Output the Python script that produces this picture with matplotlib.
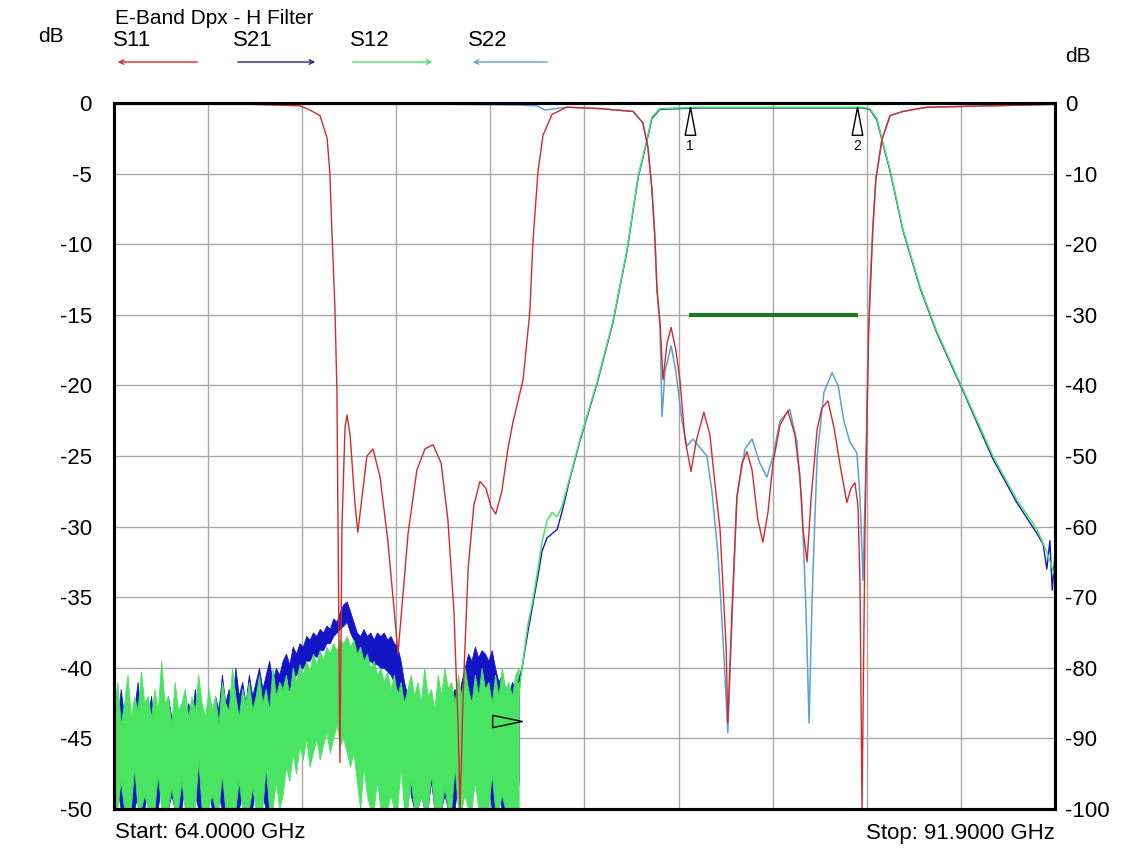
import numpy as np
import matplotlib
matplotlib.use('Agg')
import matplotlib.pyplot as plt

plt.rcParams['font.family'] = ['Liberation Sans', 'DejaVu Sans']
plt.rcParams['axes.unicode_minus'] = False

# sweep settings
f_start, f_stop = 64.0, 91.9

# S11 (left scale, dB)
s11_f = [64.00, 68.03, 69.51, 69.81, 70.11, 70.32, 70.40, 70.46, 70.55, 70.61, 70.64, 70.70,
         70.76, 70.85, 70.91, 71.00, 71.15, 71.23, 71.35, 71.50, 71.68, 71.89, 72.12, 72.33,
         72.42, 72.51, 72.72, 72.98, 73.22, 73.46, 73.70, 73.90, 74.08, 74.20, 74.26, 74.35,
         74.50, 74.67, 74.85, 75.03, 75.18, 75.32, 75.50, 75.68, 75.83, 76.13, 76.33, 76.42,
         76.57, 76.72, 76.99, 77.43, 78.41, 79.39, 79.68, 79.83, 79.95, 80.04, 80.10, 80.19,
         80.28, 80.40, 80.52, 80.66, 80.78, 80.93, 81.11, 81.26, 81.49, 81.67, 81.82, 81.97,
         82.15, 82.20, 82.32, 82.47, 82.62, 82.77, 82.92, 83.09, 83.24, 83.39, 83.54, 83.75,
         83.98, 84.19, 84.34, 84.43, 84.55, 84.67, 84.85, 84.99, 85.17, 85.35, 85.52, 85.73,
         85.85, 85.97, 86.06, 86.12, 86.18, 86.27, 86.33, 86.38, 86.44, 86.50, 86.59, 86.77,
         87.01, 87.39, 88.10, 91.90]
s11_db = [-0.1, -0.1, -0.2, -0.5, -0.9, -2.5, -4.9, -9.0, -14.4, -20.3, -29.0, -46.7,
          -30.0, -23.0, -22.1, -23.5, -28.5, -30.4, -28.0, -25.0, -24.5, -26.5, -31.0, -36.5,
          -39.0, -36.5, -30.5, -26.0, -24.5, -24.2, -25.5, -29.5, -36.0, -44.0, -50.0, -42.0,
          -33.0, -28.5, -26.8, -27.3, -28.6, -29.1, -27.5, -24.5, -22.6, -19.6, -14.8, -9.9,
          -4.9, -2.3, -0.8, -0.3, -0.4, -0.6, -1.4, -3.1, -6.1, -9.6, -13.2, -15.5,
          -19.6, -17.0, -15.9, -17.5, -19.6, -23.8, -26.1, -24.0, -21.9, -23.5, -27.0, -30.2,
          -38.5, -43.9, -36.1, -27.9, -25.5, -24.7, -26.0, -29.5, -31.1, -29.0, -25.5, -22.8,
          -21.8, -23.5, -26.5, -30.2, -32.5, -28.0, -23.1, -21.6, -21.1, -23.0, -25.5, -28.3,
          -27.3, -26.9, -28.5, -34.0, -50.0, -30.0, -22.0, -16.0, -12.5, -8.9, -5.4, -2.6,
          -0.9, -0.6, -0.3, -0.1]

# S22 (left scale, dB)
s22_f = [64.00, 69.51, 73.96, 76.04, 76.54, 76.78, 77.08, 77.43, 78.41, 79.39, 79.68, 79.83,
         79.95, 80.04, 80.10, 80.19, 80.25, 80.34, 80.52, 80.66, 80.84, 80.99, 81.17, 81.37,
         81.58, 81.73, 81.91, 82.06, 82.20, 82.32, 82.47, 82.71, 82.92, 83.15, 83.36, 83.54,
         83.75, 84.04, 84.25, 84.40, 84.52, 84.61, 84.70, 84.85, 85.05, 85.29, 85.47, 85.64,
         85.82, 86.03, 86.12, 86.21, 86.30, 86.36, 86.41, 86.50, 86.59, 86.77, 87.01, 87.39,
         88.10, 91.90]
s22_db = [-0.05, -0.1, -0.1, -0.15, -0.2, -0.5, -0.4, -0.3, -0.4, -0.6, -1.4, -3.1,
          -6.1, -9.6, -13.2, -16.0, -22.2, -19.0, -17.2, -19.0, -22.5, -24.3, -23.8, -24.4,
          -25.0, -27.5, -32.0, -38.0, -44.6, -37.0, -27.9, -24.5, -23.8, -25.5, -26.5, -25.0,
          -22.5, -21.7, -24.0, -28.5, -36.0, -43.9, -35.0, -25.0, -20.5, -19.1, -20.0, -22.5,
          -24.0, -24.8, -27.9, -33.8, -25.0, -17.0, -13.2, -8.9, -5.4, -2.6, -0.9, -0.6,
          -0.3, -0.1]

# S21 / S12 noise floor below 76 GHz (right scale, dB), upper and lower edge of the trace
noise_f = np.linspace(64.0, 76.0, 121)
s12_hi = [-86, -82, -88, -85, -81, -87, -84, -86, -80.5, -85,
          -84, -87, -83, -86, -79, -85, -84, -88, -82, -86,
          -85, -83, -87, -84, -86, -81, -85, -87, -83, -86,
          -84, -88, -82, -85, -86, -80, -84, -87, -83, -85,
          -82, -86, -84, -81, -85, -83, -86, -80, -84, -82,
          -83, -81, -84, -80, -82, -79.5, -81, -79, -80.5, -78,
          -79.5, -77.5, -79, -77, -78, -76.5, -77.5, -76, -76.5, -75.5,
          -77, -76, -78, -77, -79, -78, -80, -79, -81, -80,
          -82, -80.5, -83, -81, -84, -82, -85, -83, -81, -84,
          -82, -85, -80, -84, -83, -86, -81, -84, -80, -83,
          -82, -85, -81, -84, -80, -83, -85, -81, -84, -80,
          -83, -82, -85, -81, -84, -80, -83, -82, -84, -81,
          -80]
s12_lo = [-100, -100, -96, -100, -100, -100, -94, -100, -100, -98,
          -100, -100, -100, -95, -100, -100, -100, -97, -100, -100,
          -96, -100, -100, -100, -100, -93, -100, -100, -100, -98,
          -100, -100, -95, -100, -100, -100, -100, -96, -100, -100,
          -100, -97, -100, -100, -100, -94, -100, -100, -96, -100,
          -98, -94, -96, -92, -95, -91, -93, -90, -94, -92,
          -90, -93, -91, -89, -92, -90, -88, -91, -90, -92,
          -94, -92, -96, -100, -94, -98, -100, -100, -96, -100,
          -100, -100, -98, -100, -100, -94, -100, -100, -96, -100,
          -100, -98, -100, -100, -95, -100, -100, -100, -97, -100,
          -100, -94, -100, -100, -98, -100, -100, -96, -100, -100,
          -100, -100, -95, -100, -100, -98, -100, -100, -100, -100,
          -100]
s21_hi = [-84, -88, -83, -87, -85, -89, -86, -82, -88, -86,
          -87, -84, -89, -86, -85, -88, -84, -87, -86, -90,
          -86, -88, -85, -87, -83, -88, -86, -89, -85, -87,
          -84, -86, -81, -85, -83, -86, -80, -84, -82, -85,
          -81, -84, -82, -80, -83, -81, -79, -82, -80, -81,
          -79, -78, -79.5, -77, -78, -76.5, -77, -75.5, -76, -75,
          -75.5, -74.5, -75, -74, -74.5, -73, -73.5, -72, -71, -70.6,
          -72, -73.5, -75, -75.5, -74.5, -75.5, -75, -76, -75, -75.5,
          -75, -76, -75.5, -76.5, -77, -79, -82, -84, -85, -86,
          -85, -87, -84, -86, -85, -87, -84, -86, -83, -85,
          -84, -83, -85, -82, -80, -78, -79, -77, -78.5, -77.5,
          -78, -79, -77.5, -80, -82, -81, -83, -84, -82, -83,
          -81]
s21_lo = [-100, -97, -100, -100, -96, -100, -100, -98, -100, -100,
          -97, -100, -100, -100, -96, -100, -100, -98, -100, -100,
          -100, -96, -100, -100, -98, -100, -100, -100, -96, -100,
          -100, -98, -100, -100, -100, -96, -100, -100, -98, -100,
          -100, -100, -96, -100, -98, -100, -100, -94, -96, -90,
          -86, -84, -83, -81.5, -81, -80, -80, -79, -79, -78,
          -78.5, -77.5, -77.5, -76.5, -76.5, -75.5, -75, -74.5, -74, -73.5,
          -75, -76, -78, -78.5, -79, -79.5, -79, -79.5, -79.5, -80,
          -80, -80.5, -81, -82, -83, -86, -90, -94, -98, -100,
          -100, -98, -100, -100, -96, -100, -100, -100, -98, -100,
          -100, -100, -96, -94, -90, -88, -89, -88, -90, -92,
          -100, -96, -100, -100, -98, -100, -100, -96, -100, -100,
          -96]

# S21 / S12 above 76 GHz (right scale, dB)
s12_f = [76.00, 76.10, 76.27, 76.42, 76.57, 76.69, 76.84, 76.99, 77.14, 77.28, 77.52, 77.82,
         78.32, 78.79, 79.21, 79.54, 79.80, 79.95, 80.19, 81.37, 84.34, 86.18, 86.41, 86.62,
         86.80, 87.01, 87.39, 87.90, 88.40, 89.14, 90.06, 90.77, 91.37, 91.66, 91.90]
s12_db = [-84, -80, -74, -70.4, -66, -62.2, -59.2, -58, -58.6, -57.2, -53, -47.6,
          -39.6, -31, -20.8, -10.4, -5.2, -2, -0.8, -0.6, -0.6, -0.6, -0.8, -2.2,
          -5.6, -9.4, -17.8, -26, -32.4, -40.2, -50, -56.2, -60.4, -63.6, -67]
s21_f = [76.00, 76.10, 76.27, 76.42, 76.57, 76.69, 76.84, 76.99, 77.14, 77.28, 77.52, 77.82,
         78.32, 78.79, 79.21, 79.54, 79.80, 79.95, 80.19, 81.37, 84.34, 86.18, 86.41, 86.62,
         86.80, 87.01, 87.39, 87.90, 88.40, 89.14, 90.06, 90.77, 91.37, 91.55, 91.66, 91.75,
         91.82, 91.90]
s21_db = [-82, -80, -75, -71, -67, -63.5, -61.6, -61, -60.4, -58, -53.2, -47.8,
          -39.8, -31.2, -21, -10.6, -5.4, -2.2, -0.9, -0.7, -0.7, -0.7, -0.9, -2.4,
          -5.8, -9.6, -18, -26.2, -32.6, -40.4, -50.4, -56.6, -61, -62.5, -66, -62,
          -69, -64]

# limit line (left scale)
limit_f = [81.05, 86.06]
limit_db = [-15.0, -15.0]

# markers (right scale)
mk_f = [81.08, 86.03]
mk_db = [-0.6, -0.6]
mk_txt = ['1', '2']
ref_f, ref_db = 76.10, -87.6

red = '#d42a2a'
dblue = '#1515c8'
green = '#48e462'
lblue = '#5d9fd6'

fig = plt.figure(figsize=(11.33, 8.66), dpi=100)
ax2 = fig.add_axes([0.1006, 0.0658, 0.8305, 0.8153])
ax = ax2.twinx()
ax.set_zorder(ax2.get_zorder() + 1)
ax.patch.set_visible(False)

ax2.set_xlim(f_start, f_stop)
ax2.set_ylim(-100, 0)
ax.set_ylim(-50, 0)
ax2.set_xticks(np.linspace(f_start, f_stop, 11))
ax2.set_xticklabels([])
ax2.set_yticks(np.arange(-100, 1, 10))
ax.set_yticks(np.arange(-50, 1, 5))
ax2.grid(True, color='#a8a8a8', lw=1.0)
ax2.set_axisbelow(True)

# left labels belong to the S11/S22 scale, right labels to the S21/S12 scale
ax.yaxis.tick_left()
ax2.yaxis.tick_right()
ax.tick_params(axis='y', length=0, pad=16, labelsize=16)
ax2.tick_params(axis='y', length=0, pad=7, labelsize=16)
ax2.tick_params(axis='x', length=0)

# transmission traces
ax2.fill_between(noise_f, s21_lo, s21_hi, color=dblue, lw=0.6)
ax2.fill_between(noise_f, s12_lo, s12_hi, color=green, lw=0.6)
ax2.plot(s21_f, s21_db, color=dblue, lw=1.0)
ax2.plot(s12_f, s12_db, color=green, lw=1.1)

# reflection traces
ax.plot(s22_f, s22_db, color=lblue, lw=1.1)
ax.plot(s11_f, s11_db, color=red, lw=1.0)
ax.plot(limit_f, limit_db, color='#1e7a1e', lw=3, solid_capstyle='butt')

# markers
up_tri = [(0, 0), (-0.42, -2.2), (0.42, -2.2), (0, 0)]
for f, v, t in zip(mk_f, mk_db, mk_txt):
    ax2.plot(f, v, marker=up_tri, ms=40, mfc='white', mec='black', mew=1.0, ls='none')
    ax2.annotate(t, (f, v), xytext=(0, -28), textcoords='offset points',
                 ha='center', va='center', fontsize=10)
right_tri = [(0, 0), (-2.2, 0.45), (-2.2, -0.45), (0, 0)]
ax2.plot(ref_f, ref_db, marker=right_tri, ms=43, mfc='none', mec='black', mew=1.0, ls='none')

for a in (ax, ax2):
    for s in a.spines.values():
        s.set_linewidth(2.2)
        s.set_color('black')

# header texts
fig.text(115 / 1133, 1 - 18 / 866, 'E-Band Dpx - H Filter', fontsize=15, va='center', ha='left')
fig.text(38 / 1133, 1 - 36 / 866, 'dB', fontsize=15, va='center', ha='left')
fig.text(1065 / 1133, 1 - 57 / 866, 'dB', fontsize=15, va='center', ha='left')

leg_names = ['S11', 'S21', 'S12', 'S22']
leg_cols = [red, '#202090', green, lblue]
leg_x = [113, 233, 350, 468]
leg_arrow = [(200, 115), (235, 318), (350, 435), (550, 470)]
for n, c, x0, (xa, xb) in zip(leg_names, leg_cols, leg_x, leg_arrow):
    fig.text(x0 / 1133, 1 - 40 / 866, n, fontsize=16, va='center', ha='left')
    fig.add_artist(matplotlib.patches.FancyArrowPatch(
        (xa / 1133, 1 - 62 / 866), (xb / 1133, 1 - 62 / 866), transform=fig.transFigure,
        arrowstyle='->', mutation_scale=8, color=c, lw=1.0))

fig.text(115 / 1133, 1 - 833 / 866, 'Start: 64.0000 GHz', fontsize=16, va='center', ha='left')
fig.text(1055 / 1133, 1 - 833 / 866, 'Stop: 91.9000 GHz', fontsize=16, va='center', ha='right')

fig.savefig('out.png', dpi=100)
